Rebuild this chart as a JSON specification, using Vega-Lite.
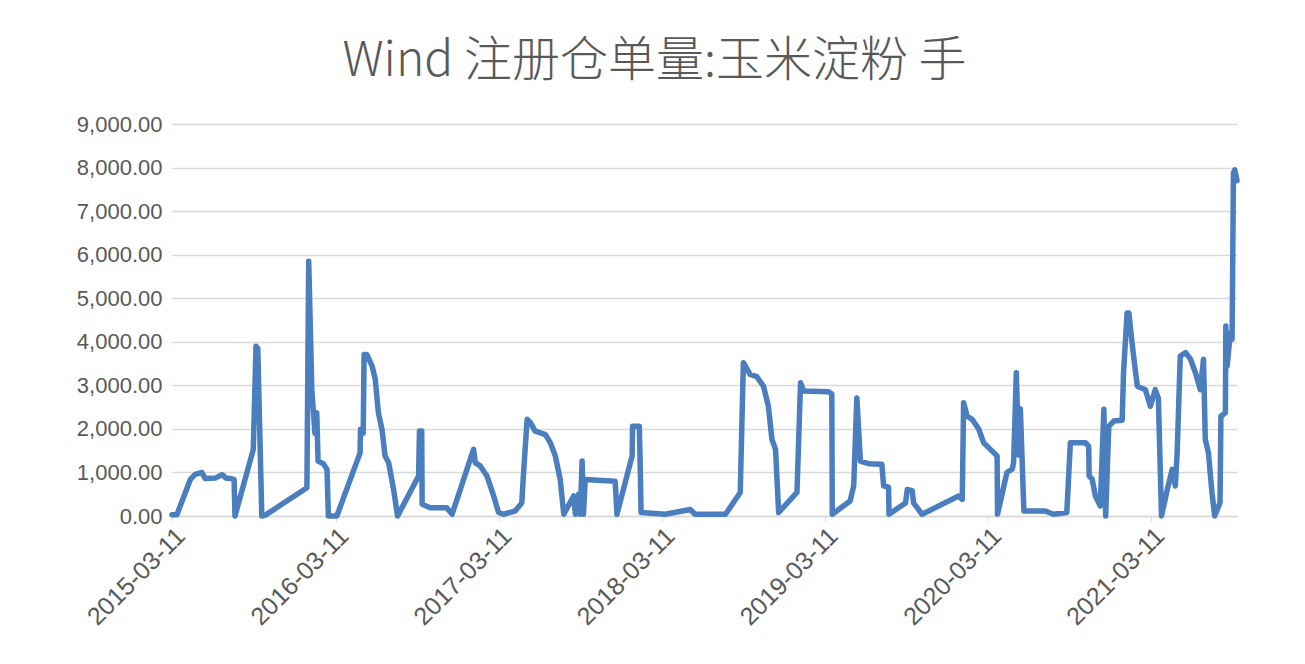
{
  "$schema": "https://vega.github.io/schema/vega-lite/v6.json",
  "width": 1065,
  "height": 392,
  "autosize": {"type": "none"},
  "padding": {"left": 172, "top": 124, "right": 68, "bottom": 148},
  "background": "white",
  "title": {
    "text": "Wind 注册仓单量:玉米淀粉 手",
    "font": "Noto Sans CJK SC",
    "fontWeight": 300,
    "fontSize": 48,
    "color": "#595959",
    "anchor": "middle",
    "frame": "group",
    "dx": -50,
    "offset": 27
  },
  "data": {
    "values": [
      {"date": "2015/03/11", "value": 30},
      {"date": "2015/03/22", "value": 30},
      {"date": "2015/04/21", "value": 840},
      {"date": "2015/05/02", "value": 955},
      {"date": "2015/05/17", "value": 1000},
      {"date": "2015/05/24", "value": 860},
      {"date": "2015/06/16", "value": 870},
      {"date": "2015/07/01", "value": 950},
      {"date": "2015/07/10", "value": 870},
      {"date": "2015/07/19", "value": 860},
      {"date": "2015/07/28", "value": 840},
      {"date": "2015/07/30", "value": 0},
      {"date": "2015/09/09", "value": 1530},
      {"date": "2015/09/15", "value": 3900},
      {"date": "2015/09/19", "value": 3850},
      {"date": "2015/09/28", "value": 0},
      {"date": "2015/10/06", "value": 20},
      {"date": "2016/01/07", "value": 650},
      {"date": "2016/01/11", "value": 5850},
      {"date": "2016/01/18", "value": 2900},
      {"date": "2016/01/25", "value": 1900},
      {"date": "2016/01/29", "value": 2370},
      {"date": "2016/02/01", "value": 1260},
      {"date": "2016/02/13", "value": 1200},
      {"date": "2016/02/21", "value": 1070},
      {"date": "2016/02/24", "value": 0},
      {"date": "2016/03/14", "value": 0},
      {"date": "2016/05/05", "value": 1450},
      {"date": "2016/05/06", "value": 1990},
      {"date": "2016/05/12", "value": 1900},
      {"date": "2016/05/14", "value": 3710},
      {"date": "2016/05/20", "value": 3710},
      {"date": "2016/06/01", "value": 3440},
      {"date": "2016/06/08", "value": 3140},
      {"date": "2016/06/15", "value": 2370},
      {"date": "2016/06/23", "value": 1990},
      {"date": "2016/06/30", "value": 1380},
      {"date": "2016/07/08", "value": 1220},
      {"date": "2016/07/19", "value": 610},
      {"date": "2016/07/28", "value": 0},
      {"date": "2016/09/13", "value": 920},
      {"date": "2016/09/15", "value": 1950},
      {"date": "2016/09/20", "value": 1950},
      {"date": "2016/09/21", "value": 270},
      {"date": "2016/10/09", "value": 190},
      {"date": "2016/11/15", "value": 190},
      {"date": "2016/11/27", "value": 40},
      {"date": "2017/01/14", "value": 1530},
      {"date": "2017/01/18", "value": 1220},
      {"date": "2017/01/29", "value": 1150},
      {"date": "2017/02/13", "value": 920},
      {"date": "2017/02/28", "value": 460},
      {"date": "2017/03/11", "value": 80},
      {"date": "2017/03/22", "value": 40},
      {"date": "2017/04/17", "value": 115},
      {"date": "2017/05/02", "value": 300},
      {"date": "2017/05/06", "value": 1000},
      {"date": "2017/05/14", "value": 2220},
      {"date": "2017/05/21", "value": 2150},
      {"date": "2017/06/01", "value": 1950},
      {"date": "2017/06/24", "value": 1870},
      {"date": "2017/07/05", "value": 1680},
      {"date": "2017/07/16", "value": 1380},
      {"date": "2017/07/27", "value": 840},
      {"date": "2017/08/04", "value": 40},
      {"date": "2017/08/26", "value": 460},
      {"date": "2017/08/30", "value": 40},
      {"date": "2017/09/06", "value": 500},
      {"date": "2017/09/10", "value": 40},
      {"date": "2017/09/14", "value": 1260},
      {"date": "2017/09/17", "value": 40},
      {"date": "2017/09/21", "value": 840},
      {"date": "2017/11/27", "value": 800},
      {"date": "2017/12/01", "value": 40},
      {"date": "2018/01/04", "value": 1380},
      {"date": "2018/01/05", "value": 2060},
      {"date": "2018/01/20", "value": 2060},
      {"date": "2018/01/22", "value": 1220},
      {"date": "2018/01/24", "value": 80},
      {"date": "2018/03/19", "value": 40},
      {"date": "2018/05/14", "value": 150},
      {"date": "2018/05/25", "value": 40},
      {"date": "2018/08/01", "value": 40},
      {"date": "2018/09/03", "value": 540},
      {"date": "2018/09/10", "value": 3520},
      {"date": "2018/09/25", "value": 3250},
      {"date": "2018/10/10", "value": 3200},
      {"date": "2018/10/25", "value": 2980},
      {"date": "2018/11/05", "value": 2520},
      {"date": "2018/11/13", "value": 1760},
      {"date": "2018/11/21", "value": 1530},
      {"date": "2018/11/28", "value": 80},
      {"date": "2019/01/08", "value": 540},
      {"date": "2019/01/16", "value": 3060},
      {"date": "2019/01/23", "value": 2870},
      {"date": "2019/03/20", "value": 2850},
      {"date": "2019/03/27", "value": 2800},
      {"date": "2019/03/28", "value": 40},
      {"date": "2019/05/07", "value": 345},
      {"date": "2019/05/15", "value": 690},
      {"date": "2019/05/22", "value": 2710},
      {"date": "2019/05/30", "value": 1260},
      {"date": "2019/06/17", "value": 1200},
      {"date": "2019/07/17", "value": 1190},
      {"date": "2019/07/21", "value": 690},
      {"date": "2019/08/01", "value": 660},
      {"date": "2019/08/02", "value": 40},
      {"date": "2019/09/08", "value": 300},
      {"date": "2019/09/12", "value": 610},
      {"date": "2019/09/23", "value": 580},
      {"date": "2019/09/26", "value": 300},
      {"date": "2019/10/15", "value": 40},
      {"date": "2020/01/05", "value": 460},
      {"date": "2020/01/13", "value": 380},
      {"date": "2020/01/16", "value": 2600},
      {"date": "2020/01/24", "value": 2290},
      {"date": "2020/02/04", "value": 2220},
      {"date": "2020/02/19", "value": 1990},
      {"date": "2020/03/01", "value": 1680},
      {"date": "2020/03/16", "value": 1530},
      {"date": "2020/03/31", "value": 1380},
      {"date": "2020/04/01", "value": 40},
      {"date": "2020/04/22", "value": 1000},
      {"date": "2020/05/04", "value": 1080},
      {"date": "2020/05/07", "value": 1230},
      {"date": "2020/05/13", "value": 3290},
      {"date": "2020/05/18", "value": 1400},
      {"date": "2020/05/22", "value": 2460},
      {"date": "2020/05/30", "value": 115},
      {"date": "2020/07/17", "value": 115},
      {"date": "2020/08/04", "value": 40},
      {"date": "2020/09/03", "value": 80},
      {"date": "2020/09/11", "value": 1680},
      {"date": "2020/10/15", "value": 1680},
      {"date": "2020/10/22", "value": 1600},
      {"date": "2020/10/23", "value": 920},
      {"date": "2020/10/30", "value": 840},
      {"date": "2020/11/06", "value": 460},
      {"date": "2020/11/17", "value": 230},
      {"date": "2020/11/25", "value": 2450},
      {"date": "2020/11/29", "value": 0},
      {"date": "2020/12/06", "value": 2060},
      {"date": "2020/12/17", "value": 2180},
      {"date": "2021/01/05", "value": 2200},
      {"date": "2021/01/08", "value": 3290},
      {"date": "2021/01/16", "value": 4660},
      {"date": "2021/01/20", "value": 4660},
      {"date": "2021/01/27", "value": 3980},
      {"date": "2021/02/04", "value": 3290},
      {"date": "2021/02/08", "value": 2980},
      {"date": "2021/02/26", "value": 2900},
      {"date": "2021/03/09", "value": 2520},
      {"date": "2021/03/20", "value": 2900},
      {"date": "2021/03/27", "value": 2700},
      {"date": "2021/04/03", "value": 0},
      {"date": "2021/04/16", "value": 610},
      {"date": "2021/04/27", "value": 1070},
      {"date": "2021/05/04", "value": 690},
      {"date": "2021/05/08", "value": 1450},
      {"date": "2021/05/15", "value": 3670},
      {"date": "2021/05/27", "value": 3750},
      {"date": "2021/06/07", "value": 3600},
      {"date": "2021/06/18", "value": 3290},
      {"date": "2021/06/29", "value": 2900},
      {"date": "2021/07/06", "value": 3600},
      {"date": "2021/07/10", "value": 1760},
      {"date": "2021/07/17", "value": 1450},
      {"date": "2021/07/25", "value": 540},
      {"date": "2021/07/31", "value": 0},
      {"date": "2021/08/09", "value": 230},
      {"date": "2021/08/12", "value": 310},
      {"date": "2021/08/14", "value": 2290},
      {"date": "2021/08/24", "value": 2370},
      {"date": "2021/08/25", "value": 4360},
      {"date": "2021/08/28", "value": 3440},
      {"date": "2021/09/04", "value": 4200},
      {"date": "2021/09/08", "value": 4060},
      {"date": "2021/09/11", "value": 7880},
      {"date": "2021/09/14", "value": 7950},
      {"date": "2021/09/19", "value": 7700}
    ]
  },
  "mark": {
    "type": "line",
    "color": "#4A7EBF",
    "strokeWidth": 5.5,
    "strokeJoin": "round",
    "strokeCap": "round"
  },
  "encoding": {
    "x": {
      "field": "date",
      "type": "temporal",
      "scale": {
        "domain": [
          {"year": 2015, "month": 3, "date": 11},
          {"year": 2021, "month": 9, "date": 19}
        ]
      },
      "axis": {
        "title": null,
        "values": [
          {"year": 2015, "month": 3, "date": 11},
          {"year": 2016, "month": 3, "date": 11},
          {"year": 2017, "month": 3, "date": 11},
          {"year": 2018, "month": 3, "date": 11},
          {"year": 2019, "month": 3, "date": 11},
          {"year": 2020, "month": 3, "date": 11},
          {"year": 2021, "month": 3, "date": 11}
        ],
        "format": "%Y-%m-%d",
        "labelAngle": -45,
        "labelFont": "Liberation Sans",
        "labelFontSize": 25,
        "labelColor": "#595959",
        "labelPadding": 2,
        "grid": false,
        "domain": true,
        "domainColor": "#d9d9d9",
        "domainWidth": 1.5,
        "ticks": true,
        "tickColor": "#d9d9d9",
        "tickSize": 5,
        "labelFlush": false,
        "labelOverlap": false
      }
    },
    "y": {
      "field": "value",
      "type": "quantitative",
      "scale": {"domain": [0, 9000], "nice": false},
      "axis": {
        "title": null,
        "values": [0, 1000, 2000, 3000, 4000, 5000, 6000, 7000, 8000, 9000],
        "format": ",.2f",
        "labelFont": "Liberation Sans",
        "labelFontSize": 22,
        "labelColor": "#595959",
        "labelPadding": 10,
        "grid": true,
        "gridColor": "#d9d9d9",
        "gridWidth": 1.5,
        "domain": false,
        "ticks": false
      }
    }
  },
  "config": {"view": {"stroke": null}}
}
